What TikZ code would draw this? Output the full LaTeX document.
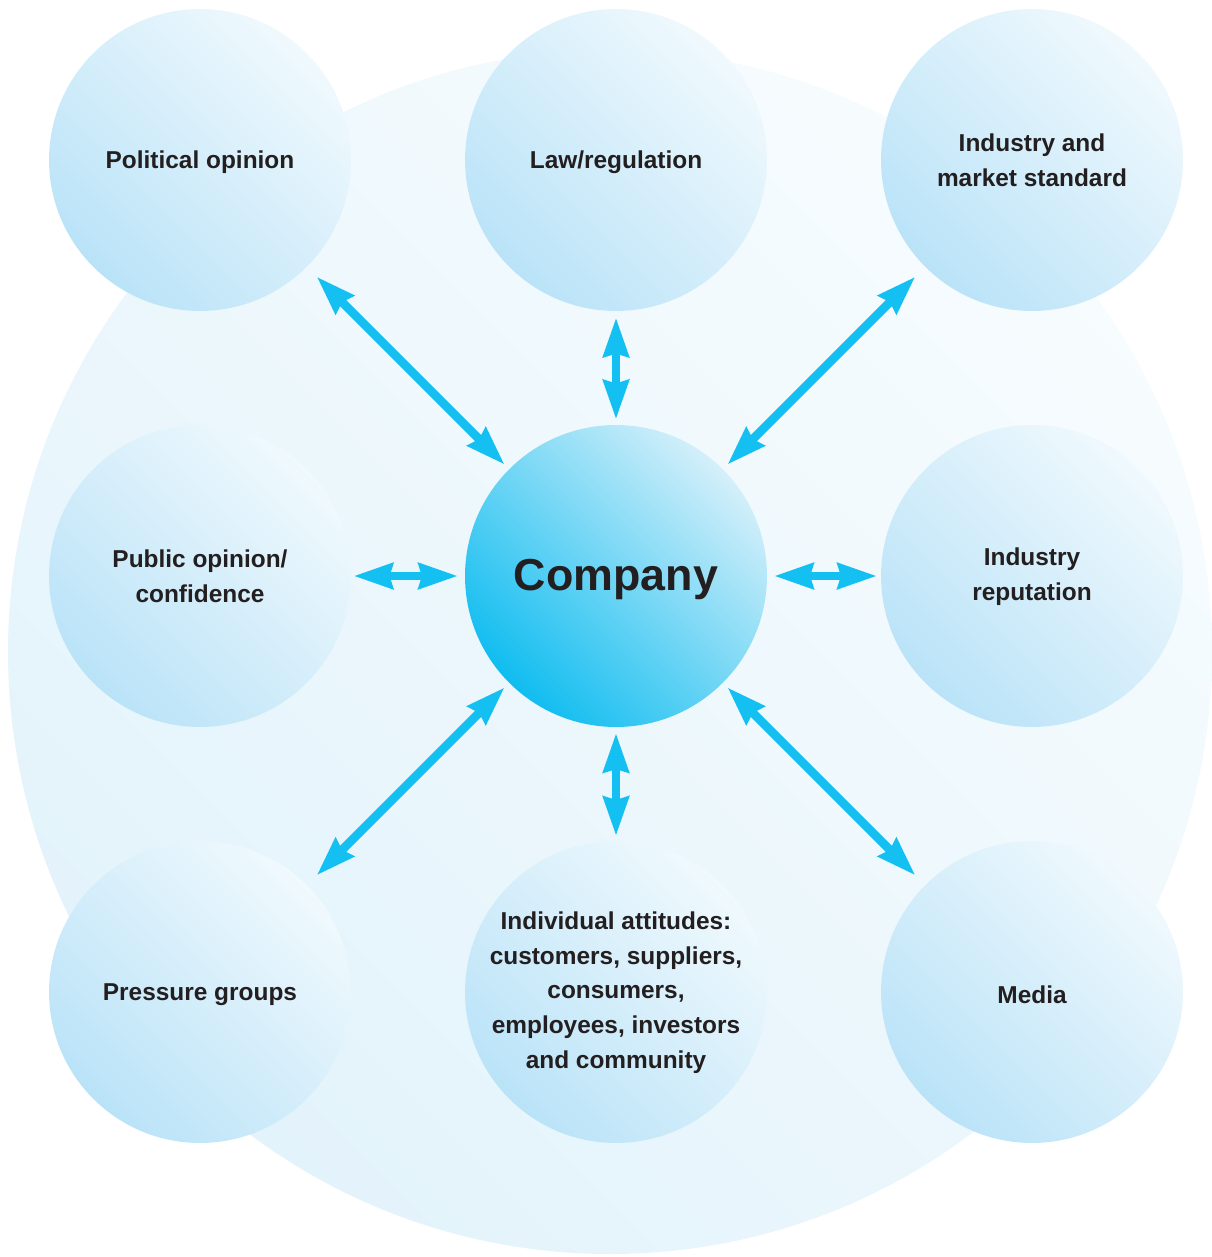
\documentclass[tikz,border=0pt]{standalone}
\usepackage{fontspec}
\setmainfont{Liberation Sans}
\usetikzlibrary{arrows.meta}
\definecolor{bgA}{HTML}{E3F3FB}
\definecolor{bgB}{HTML}{F7FCFE}
\definecolor{bubA}{HTML}{BAE3F8}
\definecolor{bubB}{HTML}{F0F9FD}
\definecolor{compA}{HTML}{10BDF0}
\definecolor{compB}{HTML}{D4EFFA}
\definecolor{arrowcol}{HTML}{14C0F1}
\definecolor{txtcol}{HTML}{231F20}
\tikzset{
  bubble/.style={circle, draw=none, minimum size=6.04cm, inner sep=0pt, outer sep=0pt,
    bottom color=bubA, top color=bubB, shading angle=-45},
  hub/.style={circle, draw=none, minimum size=6.04cm, inner sep=0pt, outer sep=0pt,
    bottom color=compA, top color=compB, shading angle=-45},
  lbl/.style={align=center, text=txtcol, font=\fontsize{13.9}{19.7}\selectfont\bfseries},
  hublbl/.style={align=center, text=txtcol, font=\fontsize{25.5}{30}\selectfont\bfseries},
  biarrow/.style={draw=arrowcol, line width=5pt,
    {Stealth[length=0.78cm, width=0.5cm, inset=0.06cm]}-{Stealth[length=0.78cm, width=0.5cm, inset=0.06cm]}},
}
\begin{document}
\begin{tikzpicture}[x=0.02cm, y=-0.02cm]
\useasboundingbox (0,0) rectangle (1211,1257);
% background disc
\shade[bottom color=bgA, top color=bgB, shading angle=-45] (610,652) circle[radius=602];
% bubbles
\node[bubble] (pol) at (200,160) {};
\node[bubble] (law) at (616,160) {};
\node[bubble] (ind) at (1032,160) {};
\node[bubble] (pub) at (200,576) {};
\node[hub] (comp) at (616,576) {};
\node[bubble] (rep) at (1032,576) {};
\node[bubble] (pres) at (200,992) {};
\node[bubble] (indiv) at (616,992) {};
\node[bubble] (media) at (1032,992) {};
% labels
\node[lbl] (polt) at (200,162.5) {Political opinion};
\node[lbl] (lawt) at (616,162.5) {Law/regulation};
\node[lbl] (indt) at (1032,160.5) {Industry and\\market standard};
\node[lbl] (pubt) at (200,576.5) {Public opinion/\\confidence};
\node[hublbl] (compt) at (616,579.5) {Company};
\node[lbl] (rept) at (1032,576.5) {Industry\\reputation};
\node[lbl] (prest) at (200,994.5) {Pressure groups};
\node[lbl] (indivt) at (616,992.5) {Individual attitudes:\\customers, suppliers,\\consumers,\\employees, investors\\and community};
\node[lbl] (mediat) at (1032,994.5) {Media};
% connectors
\draw[biarrow, shorten <=0.28cm, shorten >=0.13cm] (pol) -- (comp);
\draw[biarrow, shorten <=0.28cm, shorten >=0.13cm] (ind) -- (comp);
\draw[biarrow, shorten <=0.28cm, shorten >=0.13cm] (pres) -- (comp);
\draw[biarrow, shorten <=0.28cm, shorten >=0.13cm] (media) -- (comp);
\draw[biarrow, shorten <=0.13cm, shorten >=0.11cm] (law) -- (comp);
\draw[biarrow, shorten <=0.05cm, shorten >=0.14cm] (pub) -- (comp);
\draw[biarrow, shorten <=0.08cm, shorten >=0.14cm] (rep) -- (comp);
\draw[biarrow, shorten <=0.1cm, shorten >=0.12cm] (indiv) -- (comp);
\end{tikzpicture}
\end{document}
